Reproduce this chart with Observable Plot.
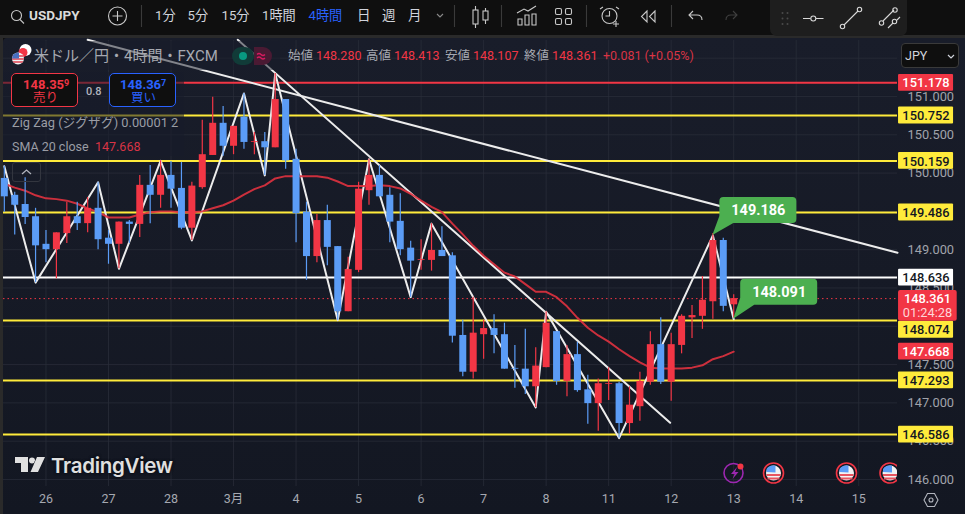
<!DOCTYPE html>
<html lang="ja">
<head>
<meta charset="utf-8">
<script src="https://cdn.jsdelivr.net/npm/d3@7"></script>
<script src="https://cdn.jsdelivr.net/npm/@observablehq/plot@0.6"></script>
<style>
  html,body{margin:0;padding:0;background:#0f0f0f;width:965px;height:514px;overflow:hidden;font-family:Roboto,"Noto Sans CJK JP",sans-serif}
  #pane{position:absolute;left:3px;top:38px;width:962px;height:476px;background:linear-gradient(#191d2a,#131722);border-top-left-radius:4px}
  #band{position:absolute;left:0;top:35px;width:965px;height:3px;background:#2a2a2a}
  #bandl{position:absolute;left:0;top:35px;width:3px;height:479px;background:#2a2a2a}
  #chart{position:absolute;left:0;top:0}
  #chart svg{background:transparent;display:block}
  #over{position:absolute;left:0;top:0;width:965px;height:514px;pointer-events:none}
  .t{position:absolute;white-space:nowrap;transform:translateY(-50%);line-height:1}
  .box{position:absolute;box-sizing:border-box}
  .ic{position:absolute;left:0;top:0}
</style>
</head>
<body>
<div id="pane"></div><div id="band"></div><div id="bandl"></div>
<div id="chart"></div>
<div id="over"></div>
<script>
// --- candles, prices ---
const open_ = [149.93,149.71,149.59,149.43,149.07,149.00,149.21,149.43,149.34,149.54,149.15,149.07,149.36,149.33,149.84,149.71,149.97,149.80,149.28,149.81,150.23,150.65,150.35,150.73,150.40,150.41,150.33,150.96,150.18,149.49,148.91,149.38,149.04,148.19,148.73,149.77,149.97,149.71,149.37,149.02,148.86,148.86,148.99,148.92,147.88,147.40,147.89,147.97,147.89,147.45,147.44,147.21,147.46,147.93,147.28,147.63,147.17,146.99,147.24,147.25,146.73,146.95,147.27,147.76,147.27,147.75,148.11,148.13,148.32,149.12,148.28];
const high_ = [150.09,149.75,149.94,149.54,149.25,149.22,149.62,149.62,149.68,149.88,149.25,149.36,149.38,149.97,150.10,150.16,150.15,150.14,149.88,150.69,150.99,150.87,150.61,151.04,150.53,150.53,151.30,150.96,150.31,149.62,149.46,149.58,149.04,148.90,149.88,150.18,150.10,149.81,149.73,149.11,149.13,149.34,149.30,148.96,148.08,148.38,148.08,148.15,148.04,147.75,147.96,147.72,148.19,147.93,147.75,147.79,147.36,147.31,147.46,147.27,147.21,147.40,147.93,148.11,147.91,148.15,148.27,148.65,149.21,149.15,148.413];
const low_ = [149.49,149.19,149.33,148.57,148.83,148.62,149.08,149.25,149.22,149.00,148.81,148.75,149.08,149.16,149.34,149.54,149.54,149.26,149.12,149.79,150.23,150.22,150.24,150.31,150.24,149.97,150.33,150.05,149.09,148.60,148.83,148.79,148.08,148.19,148.70,149.58,149.69,149.09,148.92,148.38,148.73,148.72,148.91,147.78,147.34,147.31,147.57,147.64,147.44,147.19,147.11,146.94,147.46,147.23,147.08,147.14,146.72,146.63,147.03,146.54,146.59,146.76,147.23,147.24,147.02,147.64,147.84,147.96,148.09,148.19,148.107];
const close_ = [149.69,149.58,149.42,149.05,149.00,149.22,149.43,149.34,149.54,149.13,149.07,149.36,149.33,149.84,149.71,149.97,149.79,149.28,149.83,150.24,150.65,150.35,150.61,150.40,150.41,150.33,150.96,150.16,149.47,148.91,149.38,149.03,148.19,148.74,149.79,149.97,149.69,149.36,149.00,148.85,148.87,148.99,148.91,147.87,147.40,147.91,147.97,147.88,147.44,147.44,147.21,147.48,148.04,147.28,147.63,147.16,146.99,147.25,147.25,146.73,146.97,147.28,147.76,147.27,147.76,148.13,148.14,148.34,149.12,148.26,148.361];
// --- SMA 20 close ---
const sma20 = [149.86,149.81,149.77,149.71,149.67,149.66,149.64,149.60,149.54,149.49,149.42,149.42,149.42,149.46,149.49,149.50,149.50,149.49,149.49,149.50,149.54,149.58,149.64,149.72,149.79,149.84,149.93,149.96,149.96,149.96,149.96,149.94,149.89,149.83,149.83,149.83,149.84,149.83,149.80,149.73,149.64,149.56,149.49,149.34,149.20,149.05,148.92,148.81,148.70,148.65,148.55,148.45,148.45,148.38,148.26,148.11,147.98,147.88,147.80,147.70,147.61,147.53,147.46,147.45,147.45,147.45,147.46,147.49,147.57,147.61,147.668];
// --- Zig Zag pivots ---
const zigIndex = [0,3,9,11,15,18,23,25,26,32,35,39,41,51,52,59,68,70];
const zigPrice = [150.09,148.57,149.88,148.75,150.16,149.12,151.04,149.97,151.30,148.08,150.18,148.38,149.34,146.94,148.19,146.54,149.186,148.091];
// --- drawn trend lines ---
const trendAIndex = [8,85.72];
const trendAPrice = [151.74,148.96];
const trendBIndex = [22.4,63.9];
const trendBPrice = [151.74,146.74];
// --- horizontal levels ---
const yellowLevels = [150.752,150.159,149.486,148.074,147.293,146.586];
const redLevels = [151.178];
const whiteLevels = [148.636];
const lastPrice = 148.361;
// --- price tags on the axis ---
const tagPrices = [151.178,150.752,150.159,149.486,148.636,148.074,147.668,147.293,146.586];
const tagShownAt = [151.178,150.752,150.159,149.486,148.636,147.955,147.668,147.293,146.586];
const tagFills = ["#f23645","#ffeb3b","#ffeb3b","#ffeb3b","#ffffff","#ffeb3b","#f23645","#ffeb3b","#ffeb3b"];
const tagInks = ["#ffffff","#131722","#131722","#131722","#131722","#131722","#ffffff","#131722","#131722"];
// --- callouts ---
const calloutIndex = [68,70];
const calloutPrice = [149.186,148.091];
const calloutRise = [12,14];
// --- axes ---
const priceTicks = [151,150.5,150,149,148.5,147.5,147,146.5,146];
const gridPrices = [151.5,149.5,148,...priceTicks];
const dayIndex = [4,10,16,22,28,34,40,46,52,58,64,70,76,82];
const dayLabels = ["26","27","28","3月","4","5","6","7","8","11","12","13","14","15"];

const RED="#f23645", BLUE="#5b9cf6", FONT='Roboto,"Noto Sans CJK JP",sans-serif';
const candles = open_.map((o,i)=>({i,o,h:high_[i],l:low_[i],c:close_[i],col:close_[i]>=o?RED:BLUE}));
const tags = tagPrices.map((v,j)=>({v,at:tagShownAt[j],fill:tagFills[j],ink:tagInks[j]}));
const xAxisR = 91.1, xAxisL = 85.72, xMid = 88.45;

function callouts(index,{x,y}){
  const g = d3.create("svg:g");
  calloutIndex.forEach((ci,j)=>{
    const r = calloutRise[j];
    const n = g.append("g").attr("transform",`translate(${x(ci)},${y(calloutPrice[j])})`);
    n.append("path").attr("fill","#4caf50")
      .attr("d",`M0,0L7,${-r-7}V${-r-22}Q7,${-r-26} 11,${-r-26}H80Q84,${-r-26} 84,${-r-22}V${-r-4}Q84,${-r} 80,${-r}H21Z`);
    n.append("text").attr("x",46).attr("y",-r-13).attr("dy","0.36em").attr("text-anchor","middle")
      .attr("fill","#fff").attr("font-size",14.5).attr("font-weight",700).attr("font-family",FONT)
      .text(calloutPrice[j].toFixed(3));
  });
  return g.node();
}

const chart = Plot.plot({
  width:965,height:514,marginTop:40,marginBottom:28,marginLeft:3,marginRight:68,
  style:{background:"transparent",fontFamily:FONT,overflow:"visible"},
  x:{type:"linear",domain:[-0.077,xAxisL],label:null},
  y:{domain:[145.908,151.731],label:null},
  marks:[
    Plot.gridX(dayIndex,{stroke:"#2a2e39",strokeOpacity:0.75}),
    Plot.gridY(gridPrices,{stroke:"#2a2e39",strokeOpacity:0.75}),
    Plot.axisX(dayIndex,{tickSize:0,tickPadding:8,tickFormat:d=>dayLabels[dayIndex.indexOf(d)],fill:"#a6a9b1",fontSize:12.5,label:null}),
    Plot.axisY(priceTicks,{anchor:"right",tickSize:0,tickPadding:10,tickFormat:d=>d.toFixed(3),fill:"#a0a3ab",fontSize:12.8,label:null}),
    Plot.ruleY(yellowLevels,{stroke:"#ffeb3b",strokeWidth:2}),
    Plot.ruleY(redLevels,{stroke:RED,strokeWidth:2}),
    Plot.ruleY(whiteLevels,{stroke:"#ffffff",strokeWidth:2}),
    Plot.ruleY([lastPrice],{stroke:RED,strokeWidth:1,strokeDasharray:"1.5 3"}),
    Plot.line(trendAIndex,{x:d=>d,y:(d,j)=>trendAPrice[j],stroke:"#ececec",strokeWidth:2}),
    Plot.line(trendBIndex,{x:d=>d,y:(d,j)=>trendBPrice[j],stroke:"#ececec",strokeWidth:2}),
    Plot.line(zigIndex,{x:d=>d,y:(d,j)=>zigPrice[j],stroke:"#ececec",strokeWidth:2}),
    Plot.line(sma20,{x:(d,i)=>i,y:d=>d,stroke:"#e0323f",strokeOpacity:0.9,strokeWidth:2}),
    Plot.ruleX(candles,{x:"i",y1:"l",y2:"h",stroke:"col",strokeWidth:1.2}),
    Plot.ruleX(candles,{x:"i",y1:"o",y2:"c",stroke:"col",strokeWidth:7}),
    callouts,
    Plot.rect(tags,{x1:xAxisL+0.1,x2:xAxisR,y1:d=>d.at-0.11,y2:d=>d.at+0.11,fill:"fill",rx:1}),
    Plot.text(tags,{x:xMid,y:"at",text:d=>d.v.toFixed(3),fill:"ink",fontSize:12.8,fontWeight:500,dy:0.5}),
    Plot.rect([lastPrice],{x1:xAxisL+0.1,x2:xAxisR+0.35,y1:148.468,y2:148.065,fill:RED,rx:2}),
    Plot.text([lastPrice],{x:xMid+0.15,y:d=>d,text:d=>d.toFixed(3),fill:"#fff",fontSize:12.8,fontWeight:500}),
    Plot.text(["01:24:28"],{x:xMid+0.15,y:148.175,text:d=>d,fill:"#ffd5d8",fontSize:12.8})
  ]
});
document.getElementById("chart").appendChild(chart);

// --- interface furniture over the chart ---
const over = document.getElementById("over");
const GREY="#a6a9b1";
function t(txt,x,y,size,color,extra=""){
  const s=document.createElement("span");s.className="t";
  s.style.cssText=`left:${x}px;top:${y}px;font-size:${size}px;color:${color};${extra}`;
  s.innerHTML=txt;over.appendChild(s);return s;
}
function box(x,y,w,h,css){
  const d=document.createElement("div");d.className="box";
  d.style.cssText=`left:${x}px;top:${y}px;width:${w}px;height:${h}px;${css}`;over.appendChild(d);return d;
}
// translucent legend backings
box(30,41,250,29,"background:rgba(24,28,41,.5)");
box(3,72,181,84,"background:rgba(24,28,41,.55)");
// top bar
box(0,0,965,35,"background:#0f0f0f");
box(770,0,137,36,"background:#1e1e1e;border-radius:0 0 7px 7px");
t("USDJPY",29,16,13.5,"#dbdbdb","font-weight:700");
[["1分",155],["5分",187.5],["15分",221.5],["1時間",262],["4時間",308.5]].forEach(([s,x],j)=>t(s,x,16,13.2,j==4?"#2962ff":"#d1d4dc"));
[["日",357],["週",382],["月",408]].forEach(([s,x])=>t(s,x,16,13.5,"#d1d4dc"));
over.insertAdjacentHTML("beforeend",`<svg class="ic" width="965" height="514" fill="none" stroke="#c8c8c8" stroke-width="1.1">
 <circle cx="16.5" cy="15.5" r="5"/><path d="M20 19.5l4 4"/>
 <circle cx="117.5" cy="16" r="9"/><path d="M112.5 16h10M117.5 11v10"/>
 <path d="M141.5 5v22M454.5 5v22M501.5 5v22M586.5 5v22M671.5 5v22" stroke="#3a3a3a"/>
 <path d="M437 14l3 3 3-3" stroke="#8a8a8a"/>
 <rect x="473" y="10" width="5" height="14"/><path d="M475.5 6v4M475.5 24v4"/><rect x="483" y="11" width="5" height="9"/><path d="M485.5 8v3M485.5 20v4"/>
 <path d="M517 13l7-4 4 2 8-5M518 19h4v6h-4zM525 15h4v10h-4zM532 14h4v11h-4z" />
 <rect x="555.5" y="8.5" width="6" height="6" rx="1.5"/><rect x="565.5" y="8.5" width="6" height="6" rx="1.5"/><rect x="555.5" y="18.5" width="6" height="6" rx="1.5"/><rect x="565.5" y="18.5" width="6" height="6" rx="1.5"/>
 <circle cx="609.5" cy="16" r="7.5"/><path d="M609.5 11v5h-4M600 9l3-2M616 7l3 2M616 21v6M613 24h6"/>
 <path d="M647 11l-5.500 5.500 5.500 5.500zM655 11l-5.500 5.500 5.500 5.500z"/>
 <path d="M693 11l-4 4 4 4M689 15h8q5 0 5 5"/>
 <path d="M733 11l4 4-4 4M737 15h-6q-5 0-5 5" stroke="#3f3f3f"/>
 <g fill="#4a4a4a" stroke="none"><circle cx="782.500" cy="13" r="1"/><circle cx="782.500" cy="18.500" r="1"/><circle cx="782.500" cy="24" r="1"/><circle cx="787.500" cy="13" r="1"/><circle cx="787.500" cy="18.500" r="1"/><circle cx="787.500" cy="24" r="1"/></g>
 <path d="M803 18.500h7.500M816 18.500h7.500" stroke="#d8d8d8"/><circle cx="813.300" cy="18.500" r="2.500" stroke="#d8d8d8"/>
 <path d="M844 25L858 11" stroke="#d8d8d8"/><circle cx="842.500" cy="26.500" r="2.200" stroke="#d8d8d8"/><circle cx="859.500" cy="9.500" r="2.200" stroke="#d8d8d8"/>
 <path d="M883 21l11-11M888 28l5-5M897 20l3-3" stroke="#d8d8d8"/><circle cx="881.500" cy="23" r="2.200" stroke="#d8d8d8"/><circle cx="895" cy="10" r="2.200" stroke="#d8d8d8"/><circle cx="894.500" cy="21.500" r="2.200" stroke="#d8d8d8"/>
</svg>`);
// symbol legend
over.insertAdjacentHTML("beforeend",`<svg class="ic" width="965" height="514">
 <circle cx="25.500" cy="50" r="6" fill="#fff"/><circle cx="23" cy="52.500" r="4.500" fill="#f23645"/>
 <clipPath id="fc"><circle cx="18" cy="58.500" r="6"/></clipPath>
 <g clip-path="url(#fc)"><rect x="12" y="52" width="12" height="13" fill="#f2f2f2"/><path d="M12 56h12M12 59h12M12 62h12" stroke="#e04050" stroke-width="1.500"/><rect x="12" y="52" width="7" height="6.500" fill="#4a70c0"/></g>
 <rect x="232" y="47" width="22" height="18" rx="9" fill="#113b38"/><path d="M254 47h9a9 9 0 0 1 0 18h-9z" fill="#4a1a33"/>
 <circle cx="243" cy="56" r="4" fill="#089981"/><path d="M257 54.500q2-2 4 0t4 0M257 58q2-2 4 0t4 0" stroke="#d81b60" fill="none" stroke-width="1.200"/>
</svg>`);
t("米ドル／円・4時間・FXCM",34,56,15,GREY);
t("始値",288,56,12.5,GREY);t("148.280",316,56,12.5,RED);
t("高値",366,56,12.5,GREY);t("148.413",394,56,12.5,RED);
t("安値",445,56,12.5,GREY);t("148.107",473,56,12.5,RED);
t("終値",524,56,12.5,GREY);t("148.361",552,56,12.5,RED);
t("+0.081 (+0.05%)",603,56,12.5,"#d83445");
// sell / buy
box(11,73,67,34,`background:#0f0f0f;border:1px solid ${RED};border-radius:5px`);
box(109,73,67,34,"background:#0f0f0f;border:1px solid #2962ff;border-radius:5px");
t('148.35<span style="font-size:9px;position:relative;top:-3px">9</span>',23,84,13,RED,"font-weight:700");
t("売り",33,97.500,12.500,RED);
t('148.36<span style="font-size:9px;position:relative;top:-3px">7</span>',120,84,13,"#2962ff","font-weight:700");
t("買い",131,97.500,12.500,"#2962ff");
t("0.8",86,90.500,11,"#b2b5be","font-weight:500");
t("Zig Zag (ジグザグ) 0.00001 2",12,123,12.800,"#9a9da5");
t("SMA 20 close",12,147,12.500,"#9a9da5");t("147.668",95,147,12.500,"#d83445");
box(12,162,29,20,"border:1px solid #33363f;border-radius:3px");
box(901,43,58,25,"background:#0f0f0f;border:1px solid #3a3a3a;border-radius:4px");
over.insertAdjacentHTML("beforeend",`<svg class="ic" width="965" height="514" fill="none">
 <path d="M22 174l4.500-4 4.500 4" stroke="#b2b5be" stroke-width="1.300"/>
 <path d="M948 55l3 3 3-3" stroke="#d1d4dc" stroke-width="1.200"/>
 <path d="M924 500l3.500-6.500h7l3.500 6.500-3.500 6.500h-7z" stroke="#b2b5be" stroke-width="1.100"/><circle cx="931" cy="500" r="2" stroke="#b2b5be" stroke-width="1.100"/>
 <clipPath id="ev"><rect x="700" y="440" width="197" height="60"/></clipPath>
 <g clip-path="url(#ev)">
  <circle cx="733.500" cy="473" r="9.500" stroke="#9c27b0" stroke-width="1.600"/>
  <path d="M737 467l-6 7h3.500l-2 5 6-7h-3.500z" fill="#9c27b0"/><circle cx="740.500" cy="466.500" r="3" fill="#f23645"/>
  ${[773.500,846.500,890].map(cx=>`<circle cx="${cx}" cy="473" r="10" stroke="#f23645" stroke-width="1.600"/>
   <circle cx="${cx}" cy="473" r="7.500" fill="#f2f2f2"/>
   <path d="M${cx-7} 475h14M${cx-6} 478.500h12" stroke="#e85560" stroke-width="1.800"/>
   <path d="M${cx-7} 472v-3a7.500 7.500 0 0 1 7-3.500h2v7z" fill="#5b9cf6"/>`).join("")}
 </g>
 <g fill="#e0e0e0" stroke="#0f131c" stroke-width="0.800" paint-order="stroke">
  <path d="M15 457h13v15h-7v-9h-6z"/><circle cx="32" cy="460.500" r="3"/><path d="M37 457h8l-7 15h-7.500z"/>
 </g>
</svg>`);
t("JPY",905,56,12.500,"#d1d4dc");
t("TradingView",51,466,20.500,"#e0e0e0","font-family:Inter,Roboto,sans-serif;font-weight:600;letter-spacing:-.3px;text-shadow:0 0 3px #0a0d14,0 0 3px #0a0d14");
</script>
</body>
</html>
